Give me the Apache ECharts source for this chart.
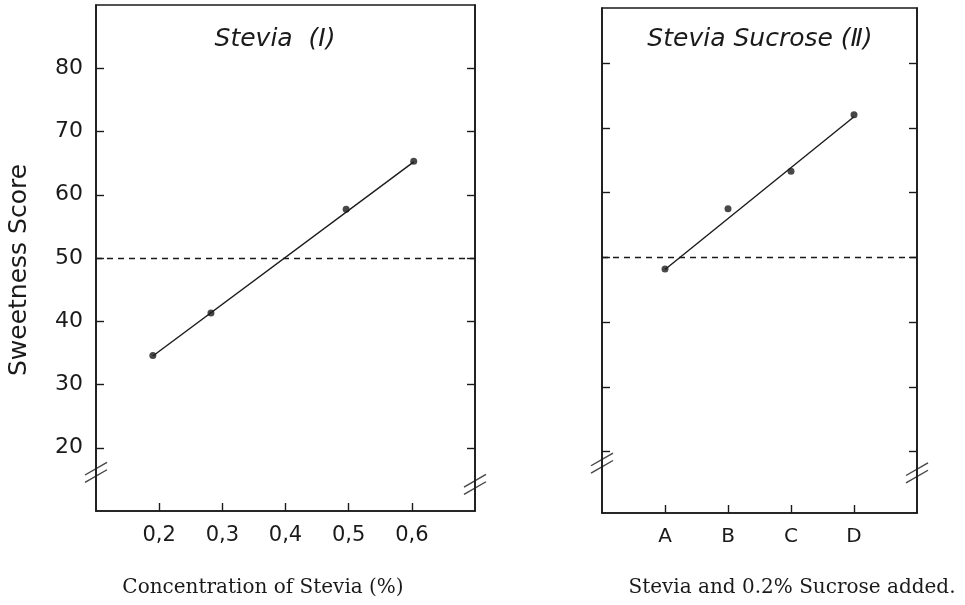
<!DOCTYPE html>
<html>
<head>
<meta charset="utf-8">
<script src="https://cdn.jsdelivr.net/npm/echarts@6/dist/echarts.min.js"></script>
<style>
  html, body { margin: 0; padding: 0; background: #ffffff; }
  #chart { width: 965px; height: 605px; }
</style>
</head>
<body>
<div id="chart"></div>
<script>
// ---- Data ----
const concentrations = [0.19, 0.282, 0.496, 0.603];
const steviaScores = [34.6, 41.3, 57.7, 65.3];
const steviaFitX = [0.19, 0.603];
const steviaFitY = [34.5, 65.2];

const sucroseCategories = ['A', 'B', 'C', 'D'];
const sucrosePositions = [1, 2, 3, 4];
const sucroseScores = [48.2, 57.5, 63.3, 72.0];
const sucroseFitX = [1, 4];
const sucroseFitY = [48.1, 71.7];

const referenceScore = 50;
const yTicks = [20, 30, 40, 50, 60, 70, 80];
const xTicksLeft = [0.2, 0.3, 0.4, 0.5, 0.6];
const xTicksRight = [1, 2, 3, 4];

const panelTitles = ['Stevia  (\u2160)', 'Stevia Sucrose (\u2161)'];
const xAxisNames = ['Concentration of Stevia (%)', 'Stevia and 0.2% Sucrose added.'];
const yAxisName = 'Sweetness Score';

// axis-break marks positions (axis value, score)
const breaksLeft = [[0.1, 16.1], [0.7, 14.2]];
const breaksRight = [[0, 18.2], [5, 16.7]];

// ---- Chart ----
const chart = echarts.init(document.getElementById('chart'), null, { renderer: 'canvas' });
const ink = '#1a1a1a';
const sansFont = 'DejaVu Sans';
const breakPath = 'path://M0,12 L20,0 M0,19 L20,7';

function zipXY(xs, ys) { return xs.map((x, i) => [x, ys[i]]); }

const tickStyle = { show: true, inside: true, length: 8, lineStyle: { color: ink, width: 1.4 } };
const axisLineStyle = { show: true, lineStyle: { color: ink, width: 1.6 } };

const option = {
  backgroundColor: '#ffffff',
  animation: false,
  grid: [
    { left: 96, top: 5, width: 379, height: 506, show: true, borderColor: ink, borderWidth: 1.6 },
    { left: 602, top: 8, width: 315, height: 505, show: true, borderColor: ink, borderWidth: 1.6 }
  ],
  xAxis: [
    {
      gridIndex: 0, type: 'value', min: 0.1, max: 0.7,
      axisLine: axisLineStyle,
      axisTick: Object.assign({ customValues: xTicksLeft }, tickStyle),
      axisLabel: {
        customValues: xTicksLeft, margin: 14, color: ink, fontFamily: sansFont, fontSize: 21,
        formatter: v => v.toFixed(1).replace('.', ',')
      },
      splitLine: { show: false }
    },
    {
      gridIndex: 1, type: 'value', min: 0, max: 5,
      axisLine: axisLineStyle,
      axisTick: Object.assign({ customValues: xTicksRight }, tickStyle),
      axisLabel: {
        customValues: xTicksRight, margin: 14, color: ink, fontFamily: sansFont, fontSize: 20,
        formatter: v => sucroseCategories[Math.round(v) - 1] || ''
      },
      splitLine: { show: false }
    }
  ],
  yAxis: [
    {
      gridIndex: 0, type: 'value', min: 10, max: 90, position: 'left',
      axisLine: axisLineStyle,
      axisTick: Object.assign({ customValues: yTicks }, tickStyle),
      axisLabel: { customValues: yTicks, margin: 13, color: ink, fontFamily: sansFont, fontSize: 22 },
      splitLine: { show: false }
    },
    {
      gridIndex: 0, type: 'value', min: 10, max: 90, position: 'right',
      axisLine: axisLineStyle,
      axisTick: Object.assign({ customValues: yTicks }, tickStyle),
      axisLabel: { show: false },
      splitLine: { show: false }
    },
    {
      gridIndex: 1, type: 'value', min: 10.5, max: 88.5, position: 'left',
      axisLine: axisLineStyle,
      axisTick: Object.assign({ customValues: yTicks }, tickStyle),
      axisLabel: { show: false },
      splitLine: { show: false }
    },
    {
      gridIndex: 1, type: 'value', min: 10.5, max: 88.5, position: 'right',
      axisLine: axisLineStyle,
      axisTick: Object.assign({ customValues: yTicks }, tickStyle),
      axisLabel: { show: false },
      splitLine: { show: false }
    }
  ],
  series: [
    {
      name: 'Stevia fit', type: 'line', xAxisIndex: 0, yAxisIndex: 0,
      data: zipXY(steviaFitX, steviaFitY), showSymbol: false, symbol: 'none',
      lineStyle: { color: ink, width: 1.4 },
      markLine: {
        silent: true, symbol: 'none', label: { show: false },
        lineStyle: { color: ink, type: [6, 5], width: 1.3 },
        data: [{ yAxis: referenceScore }]
      }
    },
    {
      name: 'Stevia', type: 'scatter', xAxisIndex: 0, yAxisIndex: 0,
      data: zipXY(concentrations, steviaScores), symbol: 'circle', symbolSize: 7,
      itemStyle: { color: ink }
    },
    {
      name: 'Sucrose fit', type: 'line', xAxisIndex: 1, yAxisIndex: 2,
      data: zipXY(sucroseFitX, sucroseFitY), showSymbol: false, symbol: 'none',
      lineStyle: { color: ink, width: 1.4 },
      markLine: {
        silent: true, symbol: 'none', label: { show: false },
        lineStyle: { color: ink, type: [6, 5], width: 1.3 },
        data: [{ yAxis: referenceScore }]
      }
    },
    {
      name: 'Stevia Sucrose', type: 'scatter', xAxisIndex: 1, yAxisIndex: 2,
      data: zipXY(sucrosePositions, sucroseScores), symbol: 'circle', symbolSize: 7,
      itemStyle: { color: ink }
    },
    {
      name: 'breaks left', type: 'scatter', xAxisIndex: 0, yAxisIndex: 0, clip: false,
      data: breaksLeft, symbol: breakPath, symbolSize: [22, 20], silent: true,
      itemStyle: { color: 'rgba(0,0,0,0)', borderColor: ink, borderWidth: 1.4 }
    },
    {
      name: 'breaks right', type: 'scatter', xAxisIndex: 1, yAxisIndex: 2, clip: false,
      data: breaksRight, symbol: breakPath, symbolSize: [22, 20], silent: true,
      itemStyle: { color: 'rgba(0,0,0,0)', borderColor: ink, borderWidth: 1.4 }
    }
  ],
  graphic: [
    {
      type: 'text', style: {
        text: panelTitles[0], x: 275, y: 39, align: 'center', verticalAlign: 'middle',
        fill: ink, font: 'italic 25px "DejaVu Sans"'
      }
    },
    {
      type: 'text', style: {
        text: panelTitles[1], x: 760, y: 39, align: 'center', verticalAlign: 'middle',
        fill: ink, font: 'italic 25px "DejaVu Sans"'
      }
    },
    {
      type: 'text', x: 19, y: 270, rotation: Math.PI / 2, style: {
        text: yAxisName, x: 0, y: 0, align: 'center', verticalAlign: 'middle',
        fill: ink, font: '25px "DejaVu Sans"'
      }
    },
    {
      type: 'text', style: {
        text: xAxisNames[0], x: 263, y: 588, align: 'center', verticalAlign: 'middle',
        fill: ink, font: '20px "DejaVu Serif"'
      }
    },
    {
      type: 'text', style: {
        text: xAxisNames[1], x: 792, y: 588, align: 'center', verticalAlign: 'middle',
        fill: ink, font: '20px "DejaVu Serif"'
      }
    }
  ]
};
chart.setOption(option);
</script>
</body>
</html>
